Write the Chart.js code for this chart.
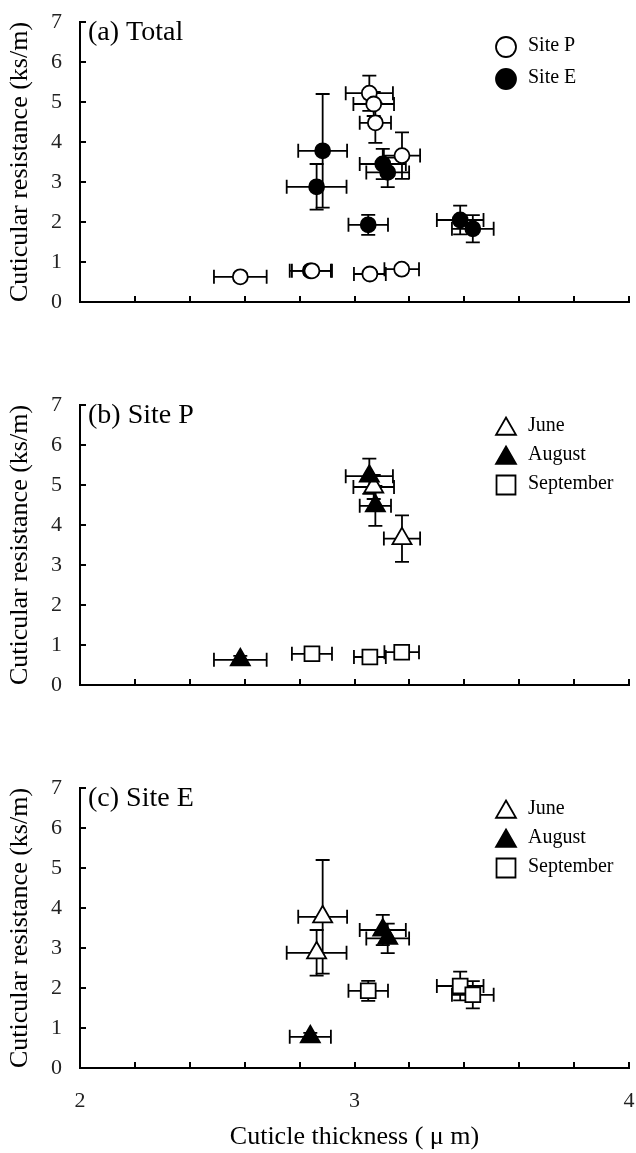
<!DOCTYPE html>
<html>
<head>
<meta charset="utf-8">
<script src="https://cdn.jsdelivr.net/npm/chart.js@4.4.0/dist/chart.umd.min.js"></script>
<style>
  body { margin: 0; background: #fff; }
  canvas { display: block; }
</style>
</head>
<body>
<canvas id="chartTotal" width="636" height="383"></canvas>
<canvas id="chartSiteP" width="636" height="383"></canvas>
<canvas id="chartSiteE" width="636" height="387"></canvas>
<script>
'use strict';

// Site P: cuticle thickness (um), cuticular resistance (ks/m), +/- errors, sampling month
var sitePThickness = [3.054, 3.070, 3.076, 3.173, 2.584, 2.845, 3.056, 3.172];
var sitePResistance = [5.22, 4.95, 4.48, 3.66, 0.63, 0.78, 0.70, 0.82];
var sitePThicknessErr = [0.086, 0.074, 0.057, 0.066, 0.096, 0.073, 0.058, 0.063];
var sitePResistanceErr = [0.44, 0.30, 0.50, 0.58, 0.10, 0.10, 0.10, 0.10];
var sitePMonth = ['August', 'June', 'August', 'June', 'August', 'September', 'September', 'September'];

// Site E
var siteEThickness = [2.884, 2.862, 3.103, 3.121, 3.050, 3.385, 3.431, 2.839];
var siteEResistance = [3.78, 2.88, 3.45, 3.24, 1.93, 2.05, 1.83, 0.78];
var siteEThicknessErr = [0.089, 0.109, 0.084, 0.078, 0.072, 0.085, 0.076, 0.075];
var siteEResistanceErr = [1.42, 0.57, 0.38, 0.37, 0.25, 0.36, 0.34, 0.10];
var siteEMonth = ['June', 'June', 'August', 'August', 'September', 'September', 'September', 'August'];

var siteNames = ['Site P', 'Site E'];
var monthNames = ['June', 'August', 'September'];
var xTickLabels = ['2', '3', '4'];

var serif = '"Liberation Serif", "Times New Roman", serif';
Chart.defaults.font.family = serif;
Chart.defaults.color = '#000';

// marker look for each series
var markers = {
    'Site P': { style: 'circle', fill: '#fff', r: 7.5, legendR: 10 },
    'Site E': { style: 'circle', fill: '#000', r: 7.5, legendR: 10 },
    'June': { style: 'triangle', fill: '#fff', r: 11, legendR: 11.5 },
    'August': { style: 'triangle', fill: '#000', r: 11, legendR: 11.5 },
    'September': { style: 'rect', fill: '#fff', r: 10.5, legendR: 13.4 }
};

function points(xs, ys, xe, ye, keep) {
    var out = [];
    xs.forEach(function (x, i) {
        if (keep(i)) out.push({ x: x, y: ys[i], xErr: xe[i], yErr: ye[i] });
    });
    return out;
}

function dataset(name, data) {
    var m = markers[name];
    return {
        label: name,
        data: data,
        showLine: false,
        pointStyle: m.style,
        pointRadius: m.r,
        pointBackgroundColor: m.fill,
        pointBorderColor: '#000',
        pointBorderWidth: 1.8
    };
}

// horizontal and vertical error bars, drawn under the markers
var errorBars = {
    id: 'errorBars',
    beforeDatasetsDraw: function (chart) {
        var ctx = chart.ctx, x = chart.scales.x, y = chart.scales.y;
        var cap = 7;
        ctx.save();
        ctx.strokeStyle = '#000';
        ctx.lineWidth = 1.8;
        chart.data.datasets.forEach(function (ds) {
            ds.data.forEach(function (p) {
                var px = x.getPixelForValue(p.x), py = y.getPixelForValue(p.y);
                var xl = x.getPixelForValue(p.x - p.xErr), xr = x.getPixelForValue(p.x + p.xErr);
                var yt = y.getPixelForValue(p.y + p.yErr), yb = y.getPixelForValue(p.y - p.yErr);
                ctx.beginPath();
                ctx.moveTo(xl, py); ctx.lineTo(xr, py);
                ctx.moveTo(xl, py - cap); ctx.lineTo(xl, py + cap);
                ctx.moveTo(xr, py - cap); ctx.lineTo(xr, py + cap);
                ctx.moveTo(px, yt); ctx.lineTo(px, yb);
                ctx.moveTo(px - cap, yt); ctx.lineTo(px + cap, yt);
                ctx.moveTo(px - cap, yb); ctx.lineTo(px + cap, yb);
                ctx.stroke();
            });
        });
        ctx.restore();
    }
};

// inward tick marks, panel caption and legend
var panelDecor = {
    id: 'panelDecor',
    afterDraw: function (chart, args, opts) {
        var ctx = chart.ctx, x = chart.scales.x, y = chart.scales.y;
        ctx.save();
        ctx.strokeStyle = '#000';
        ctx.lineWidth = 2;
        ctx.beginPath();
        x.ticks.forEach(function (t) {
            var px = Math.round(x.getPixelForValue(t.value));
            ctx.moveTo(px, y.bottom); ctx.lineTo(px, y.bottom - 6);
        });
        y.ticks.forEach(function (t) {
            var py = Math.round(y.getPixelForValue(t.value));
            ctx.moveTo(x.left, py); ctx.lineTo(x.left + 6, py);
        });
        ctx.stroke();

        ctx.fillStyle = '#000';
        ctx.textBaseline = 'middle';
        ctx.font = '28px ' + serif;
        ctx.fillText(opts.caption, x.left + 8, y.top + 11);

        ctx.font = '20px ' + serif;
        opts.items.forEach(function (name, k) {
            var m = markers[name];
            var rowY = opts.legendTop + k * opts.legendStep;
            var my = m.style === 'triangle' ? rowY + 3 : rowY + 1;
            ctx.fillStyle = m.fill;
            ctx.strokeStyle = '#000';
            ctx.lineWidth = 1.8;
            Chart.helpers.drawPoint(ctx, { pointStyle: m.style, radius: m.legendR, rotation: 0, borderWidth: 1.8 }, 506, my);
            ctx.fillStyle = '#000';
            ctx.fillText(name, 528, rowY);
        });
        ctx.restore();
    }
};

function makeChart(id, datasets, caption, items, legendTop, legendStep, showX) {
    var canvas = document.getElementById(id);
    var h = canvas.height;
    return new Chart(canvas, {
        type: 'scatter',
        data: { datasets: datasets },
        plugins: [errorBars, panelDecor],
        options: {
            responsive: false,
            animation: false,
            events: [],
            layout: { autoPadding: false, padding: { top: 22, right: 7, left: 0, bottom: 0 } },
            plugins: {
                legend: { display: false },
                tooltip: { enabled: false },
                panelDecor: { caption: caption, items: items, legendTop: legendTop, legendStep: legendStep }
            },
            scales: {
                x: {
                    type: 'linear',
                    min: 2,
                    max: 4,
                    grid: { display: false, drawTicks: false },
                    border: { display: true, color: '#000', width: 2 },
                    ticks: {
                        stepSize: 0.2,
                        autoSkip: false,
                        maxRotation: 0,
                        padding: 20,
                        color: '#222',
                        font: { size: 22 },
                        callback: function (v) {
                            var n = Math.round(v);
                            if (!showX || Math.abs(v - n) > 1e-6) return '';
                            return xTickLabels[n - 2];
                        }
                    },
                    title: {
                        display: showX,
                        text: 'Cuticle thickness ( μ m)',
                        color: '#000',
                        font: { size: 26 },
                        padding: 0
                    },
                    afterFit: function (s) {
                        s.height = h - 302;
                        s.paddingLeft = 0;
                        s.paddingRight = 0;
                    }
                },
                y: {
                    min: 0,
                    max: 7,
                    grid: { display: false, drawTicks: false },
                    border: { display: true, color: '#000', width: 2 },
                    ticks: { stepSize: 1, padding: 18, color: '#222', font: { size: 22 } },
                    title: {
                        display: true,
                        text: 'Cuticular resistance (ks/m)',
                        color: '#000',
                        font: { size: 26 },
                        padding: { top: 5, bottom: 0 }
                    },
                    afterFit: function (s) {
                        s.width = 80;
                        s.paddingTop = 0;
                        s.paddingBottom = 0;
                    }
                }
            }
        }
    });
}

function all() { return true; }

// (a) both sites together
makeChart('chartTotal', [
    dataset('Site P', points(sitePThickness, sitePResistance, sitePThicknessErr, sitePResistanceErr, all)),
    dataset('Site E', points(siteEThickness, siteEResistance, siteEThicknessErr, siteEResistanceErr, all))
], '(a) Total', siteNames, 46, 32, false);

// (b), (c) one site split by month; August listed first so it sits on top
function byMonth(xs, ys, xe, ye, months) {
    return ['August', 'June', 'September'].map(function (name) {
        return dataset(name, points(xs, ys, xe, ye, function (i) { return months[i] === name; }));
    });
}

makeChart('chartSiteP', byMonth(sitePThickness, sitePResistance, sitePThicknessErr, sitePResistanceErr, sitePMonth),
    '(b) Site P', monthNames, 43, 29, false);

makeChart('chartSiteE', byMonth(siteEThickness, siteEResistance, siteEThicknessErr, siteEResistanceErr, siteEMonth),
    '(c) Site E', monthNames, 43, 29, true);
</script>
</body>
</html>
